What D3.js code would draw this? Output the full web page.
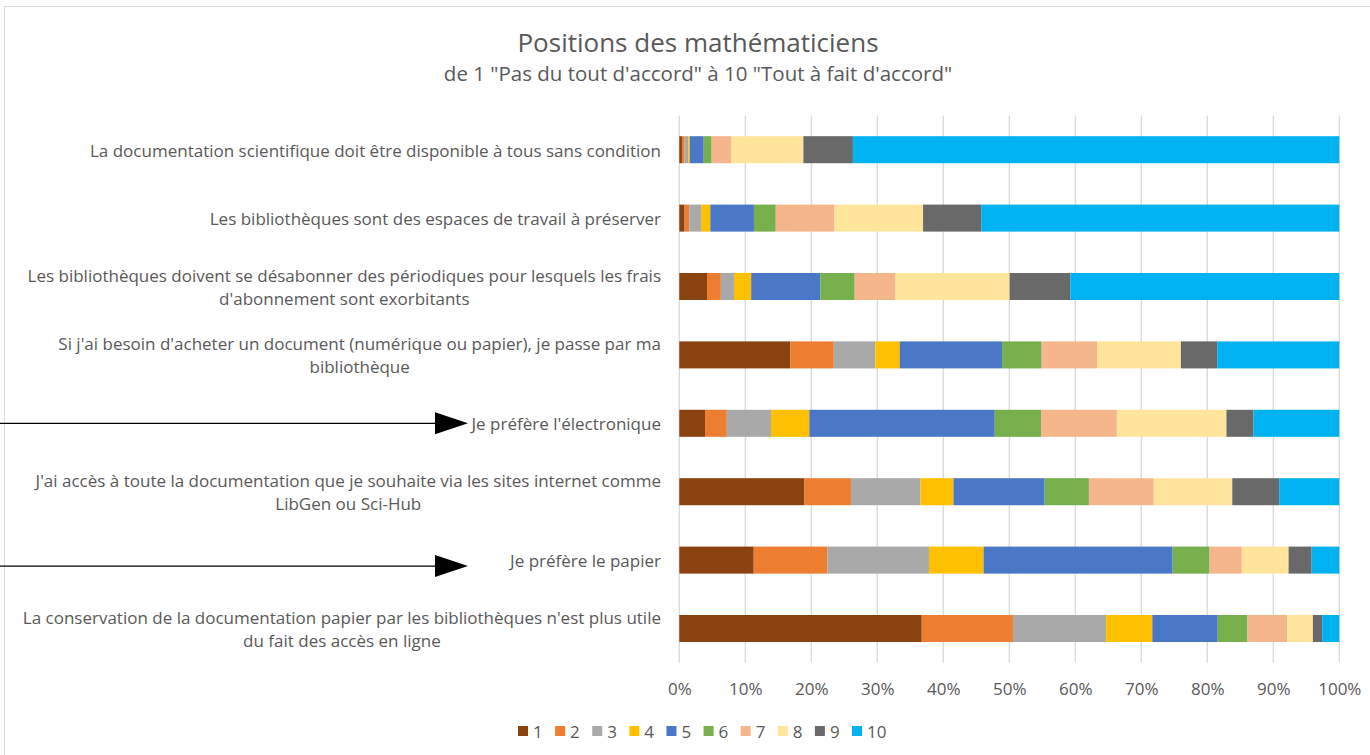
<!DOCTYPE html>
<html>
<head>
<meta charset="utf-8">
<script src="https://cdn.jsdelivr.net/npm/d3@7"></script>
<style>
  html, body { margin: 0; padding: 0; background: #fff; }
  svg { display: block; font-family: "Open Sans", "Noto Sans", sans-serif; }
</style>
</head>
<body>
<svg id="chart" width="1370" height="755"></svg>
<script>
// Survey statements, top to bottom
const categories = [
  ["La documentation scientifique doit être disponible à tous sans condition"],
  ["Les bibliothèques sont des espaces de travail à préserver"],
  ["Les bibliothèques doivent se désabonner des périodiques pour lesquels les frais", "d'abonnement sont exorbitants"],
  ["Si j'ai besoin d'acheter un document (numérique ou papier), je passe par ma", "bibliothèque"],
  ["Je préfère l'électronique"],
  ["J'ai accès à toute la documentation que je souhaite via les sites internet comme", "LibGen ou Sci-Hub"],
  ["Je préfère le papier"],
  ["La conservation de la documentation papier par les bibliothèques n'est plus utile", "du fait des accès en ligne"]
];

// Agreement levels 1..10
const levels = ["1", "2", "3", "4", "5", "6", "7", "8", "9", "10"];

// Share of answers (%) for each level, one array per level, in statement order
const level1  = [0.4, 0.8, 4.2, 16.8, 3.9, 18.9, 11.3, 36.7];
const level2  = [0.4, 0.7, 2.1, 6.6, 3.3, 7.1, 11.2, 13.8];
const level3  = [0.6, 1.8, 2.0, 6.3, 6.7, 10.5, 15.4, 14.1];
const level4  = [0.2, 1.4, 2.6, 3.7, 5.8, 5.0, 8.3, 7.0];
const level5  = [2.1, 6.6, 10.5, 15.5, 28.1, 13.8, 28.7, 9.9];
const level6  = [1.2, 3.3, 5.2, 6.0, 7.0, 6.7, 5.6, 4.5];
const level7  = [3.0, 8.9, 6.2, 8.4, 11.5, 9.8, 4.9, 6.0];
const level8  = [10.9, 13.4, 17.3, 12.7, 16.6, 11.9, 7.1, 3.9];
const level9  = [7.5, 8.8, 9.2, 5.5, 4.1, 7.1, 3.5, 1.4];
const level10 = [73.7, 54.2, 40.8, 18.5, 13.0, 9.1, 4.2, 2.6];

const xTicks = [0, 0.1, 0.2, 0.3, 0.4, 0.5, 0.6, 0.7, 0.8, 0.9, 1];

const colors = ["#8a4210", "#ed7d31", "#a9a9a9", "#ffc000", "#4a78c6",
                "#76af4c", "#f5b68b", "#ffe59c", "#696969", "#00b3f0"];

const seriesValues = [level1, level2, level3, level4, level5, level6, level7, level8, level9, level10];

// Build table rows: one per statement, fields keyed by level
const rows = categories.map((c, i) => {
  const r = { idx: i };
  levels.forEach((l, j) => { r[l] = seriesValues[j][i]; });
  return r;
});

const svg = d3.select("#chart");
const W = 1370, H = 755;
const plot = { left: 679.3, right: 1339.3, top: 115.5, bottom: 662.7 };
const textFont = "'Open Sans', 'Noto Sans', sans-serif";

// Chart frame
svg.append("rect")
  .attr("x", 4.5).attr("y", 6.5)
  .attr("width", W + 10).attr("height", H + 10)
  .attr("fill", "none").attr("stroke", "#d9d9d9").attr("stroke-width", 1);

const x = d3.scaleLinear().domain([0, 1]).range([plot.left, plot.right]);
const y = d3.scaleBand().domain(d3.range(categories.length))
  .range([plot.top, plot.bottom]).paddingInner(0.605).paddingOuter(0.3025);

// Vertical gridlines
svg.append("g")
  .selectAll("line").data(xTicks).join("line")
  .attr("x1", d => x(d)).attr("x2", d => x(d))
  .attr("y1", plot.top).attr("y2", plot.bottom)
  .attr("stroke", "#d9d9d9").attr("stroke-width", 1.3);

// Normalised stacks
const stack = d3.stack().keys(levels).offset(d3.stackOffsetExpand);
const stacked = stack(rows);

svg.append("g").selectAll("g").data(stacked).join("g")
  .attr("fill", (d, i) => colors[i])
  .selectAll("rect").data(d => d).join("rect")
  .attr("x", d => x(d[0]))
  .attr("width", d => x(d[1]) - x(d[0]))
  .attr("y", (d, i) => y(i))
  .attr("height", y.bandwidth());

// X axis tick labels
const xAxis = d3.axisBottom(x).tickValues(xTicks).tickFormat(d3.format(".0%")).tickSize(0).tickPadding(0);
const gx = svg.append("g").attr("transform", `translate(0,${plot.bottom})`).call(xAxis);
gx.select(".domain").remove();
gx.selectAll("text")
  .attr("dy", null).attr("y", 32)
  .attr("fill", "#595959").style("font-size", "17px")
  .style("font-family", textFont);

// Category labels, right aligned, multi-line blocks centred on themselves
const labelRight = 661;
const lineH = 23;
const labG = svg.append("g").attr("fill", "#595959").style("font-size", "17px");
categories.forEach((lines, i) => {
  const cy = y(i) + y.bandwidth() / 2;
  const t = labG.append("text").attr("dominant-baseline", "central");
  lines.forEach((ln, k) => {
    t.append("tspan").text(ln)
      .attr("y", cy + (k - (lines.length - 1) / 2) * lineH);
  });
  const widths = t.selectAll("tspan").nodes().map(n => n.getComputedTextLength());
  const maxW = d3.max(widths);
  t.attr("text-anchor", "middle");
  t.selectAll("tspan").attr("x", labelRight - maxW / 2);
});

// Annotation arrows pointing at the two preference statements
const arrowRows = [{ row: 4, dy: 0 }, { row: 6, dy: 6 }];
const arrowG = svg.append("g");
arrowRows.forEach(a => {
  const ay = y(a.row) + y.bandwidth() / 2 + a.dy;
  arrowG.append("line")
    .attr("x1", 0).attr("x2", 440).attr("y1", ay).attr("y2", ay)
    .attr("stroke", "#000").attr("stroke-width", 1.2);
  arrowG.append("path")
    .attr("d", `M435,${ay - 11} L468,${ay} L435,${ay + 11} Z`)
    .attr("fill", "#000");
});

// Titles
svg.append("text")
  .attr("x", 698).attr("y", 52).attr("text-anchor", "middle")
  .attr("fill", "#595959").style("font-size", "26px")
  .text("Positions des mathématiciens");
svg.append("text")
  .attr("x", 698).attr("y", 81).attr("text-anchor", "middle")
  .attr("fill", "#595959").style("font-size", "20.5px")
  .text("de 1 \"Pas du tout d'accord\" à 10 \"Tout à fait d'accord\"");

// Legend
const legX = d3.scalePoint().domain(levels).range([518, 852]);
const leg = svg.append("g").selectAll("g").data(levels).join("g")
  .attr("transform", d => `translate(${legX(d)},731)`);
leg.append("rect").attr("x", 0).attr("y", -5).attr("width", 10).attr("height", 10)
  .attr("fill", (d, i) => colors[i]);
leg.append("text").attr("x", 15).attr("dominant-baseline", "central")
  .attr("fill", "#595959").style("font-size", "17px").text(d => d);
</script>
</body>
</html>
